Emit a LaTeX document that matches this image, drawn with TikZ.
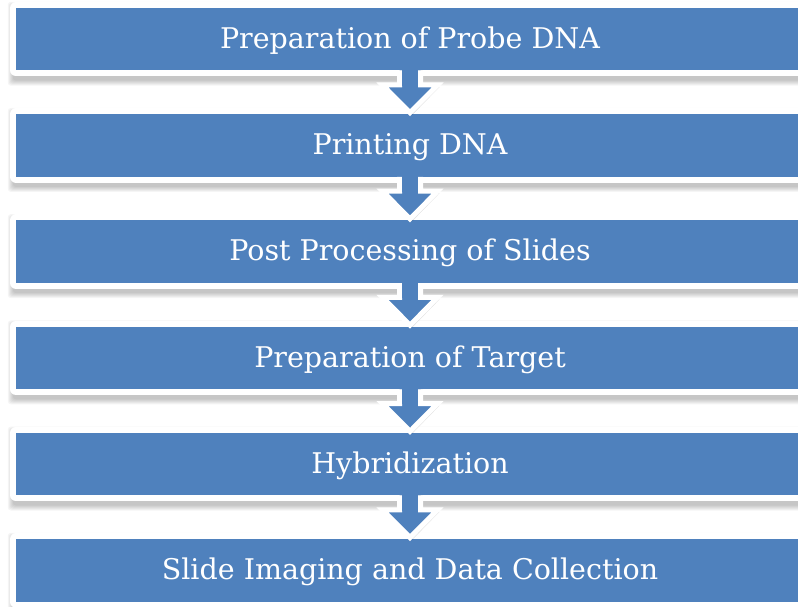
\documentclass[tikz,border=0pt]{standalone}
\usepackage{fontspec}
\newfontfamily\boxfont{DejaVu Serif}
\usetikzlibrary{calc,backgrounds}
\definecolor{boxblue}{RGB}{79,129,189}
\tikzset{
  stepbox/.style={fill=boxblue, minimum width=788pt, minimum height=62.5pt, inner sep=0pt,
    text=white, font=\boxfont\fontsize{28.5}{32}\selectfont, text height=22pt, text depth=3.6pt,
    preaction={draw=white, fill=white, line width=12pt, line join=round}},
  boxshadow/.style={fill=black, opacity=0.04, rounded corners=3pt},
  flowarrow/.style={fill=boxblue},
  arrowrim/.style={draw=white, line width=5pt, line join=miter},
}
\newcommand{\flowarrowdraw}[1]{%
  \fill[black, opacity=0.12]
    ($(#1.south)+(-8.5,0)$) -- ($(#1.south)+(-8.5,16.3)$) -- ($(#1.south)+(-25.5,16.3)$) --
    ($(#1.south)+(2,44.5)$) -- ($(#1.south)+(29.5,16.3)$) -- ($(#1.south)+(12.5,16.3)$) -- ($(#1.south)+(12.5,0)$) -- cycle;
  \fill[flowarrow]
    ($(#1.south)+(-10.5,0)$) -- ($(#1.south)+(-10.5,14.3)$) -- ($(#1.south)+(-27.5,14.3)$) --
    ($(#1.south)+(0,42)$) -- ($(#1.south)+(27.5,14.3)$) -- ($(#1.south)+(10.5,14.3)$) -- ($(#1.south)+(10.5,0)$) -- cycle;
  \draw[arrowrim]
    ($(#1.south)+(-10.5,0)$) -- ($(#1.south)+(-10.5,14.3)$) -- ($(#1.south)+(-27.5,14.3)$) --
    ($(#1.south)+(0,42)$) -- ($(#1.south)+(27.5,14.3)$) -- ($(#1.south)+(10.5,14.3)$) -- ($(#1.south)+(10.5,0)$);
  \fill[flowarrow] ($(#1.south)+(-8,-1)$) rectangle ($(#1.south)+(8,15)$);
}
\begin{document}
\begin{tikzpicture}[x=1pt,y=-1pt]
\useasboundingbox (0,0) rectangle (798,607);
\node[stepbox] (b1) at (410,39.25) {Preparation of Probe DNA};
\node[stepbox] (b2) at (410,145.45) {Printing DNA};
\node[stepbox] (b3) at (410,251.65) {Post Processing of Slides};
\node[stepbox] (b4) at (410,357.85) {Preparation of Target};
\node[stepbox] (b5) at (410,464.05) {Hybridization};
\node[stepbox] (b6) at (410,570.25) {Slide Imaging and Data Collection};
\begin{scope}[on background layer]
  \fill[white] (0,0) rectangle (798,607);
  \foreach \b in {b1,b2,b3,b4,b5,b6}{
    \foreach \r in {0,...,5}{
      \fill[boxshadow] ($(\b.north west)+(-3-\r,-1-\r)$) rectangle ($(\b.south east)+(6+\r,10+\r)$);
    }
  }
\end{scope}
\flowarrowdraw{b1}
\flowarrowdraw{b2}
\flowarrowdraw{b3}
\flowarrowdraw{b4}
\flowarrowdraw{b5}
\end{tikzpicture}
\end{document}
